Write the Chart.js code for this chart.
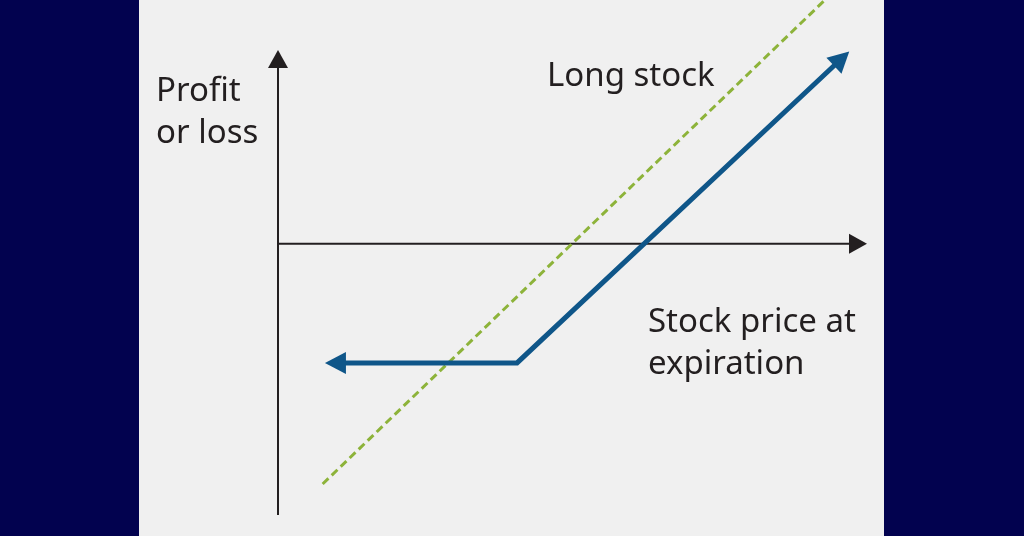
<!DOCTYPE html>
<html>
<head>
<meta charset="utf-8">
<script src="https://cdn.jsdelivr.net/npm/chart.js@4.4.1/dist/chart.umd.min.js"></script>
<style>
  html, body { margin: 0; padding: 0; }
  body { width: 1024px; height: 536px; background: #02024f; position: relative; overflow: hidden; }
  #panel { position: absolute; left: 139px; top: 0; width: 745px; height: 536px; background: #f0f0f0; }
  #chart { position: absolute; left: 0; top: 0; }
  .lbl { position: absolute; font-family: "Noto Sans", sans-serif; font-size: 33px; line-height: 42px; color: #231f20; white-space: nowrap; }
</style>
</head>
<body>
<div id="panel"></div>
<canvas id="chart" width="1024" height="536"></canvas>
<div class="lbl" id="yTitle" style="left:156px; top:68px;">Profit<br>or loss</div>
<div class="lbl" id="xTitle" style="left:648px; top:299px;">Stock price at<br>expiration</div>
<div class="lbl" id="longLbl" style="left:547px; top:53px;">Long stock</div>

<script>
// axis ranges (arbitrary units, origin where the axes cross)
const xRange = [0, 12];
const yRange = [-5.6, 4.0];

// long stock: dashed green line
const longStockX = [0.91, 11.14];
const longStockY = [-4.96, 5.03];

// long call payoff: blue line with arrows on both ends
const callX = [1.16, 4.87, 11.49];
const callY = [-2.46, -2.46, 3.83];

const BLUE = "#0f5689";
const GREEN = "#8db33a";
const INK = "#231f20";

function toPoints(xs, ys) {
  return xs.map((x, i) => ({ x: x, y: ys[i] }));
}

function arrowHead(ctx, tipX, tipY, dx, dy, len, half, color) {
  const bx = tipX - dx * len;
  const by = tipY - dy * len;
  ctx.beginPath();
  ctx.moveTo(tipX, tipY);
  ctx.lineTo(bx - dy * half, by + dx * half);
  ctx.lineTo(bx + dy * half, by - dx * half);
  ctx.closePath();
  ctx.fillStyle = color;
  ctx.fill();
}

// axes with arrowheads, drawn from the chart's own scales
const axesPlugin = {
  id: "axesPlugin",
  beforeDatasetsDraw(chart) {
    const ctx = chart.ctx;
    const xs = chart.scales.x;
    const ys = chart.scales.y;
    const x0 = xs.getPixelForValue(0);
    const y0 = ys.getPixelForValue(0);
    const xEnd = xs.getPixelForValue(xRange[1]);
    const yTop = ys.getPixelForValue(yRange[1]);
    const yBot = ys.getPixelForValue(yRange[0]);
    ctx.save();
    ctx.strokeStyle = INK;
    ctx.lineWidth = 2;
    ctx.beginPath();
    ctx.moveTo(x0, yBot);
    ctx.lineTo(x0, yTop + 10);
    ctx.moveTo(x0, y0);
    ctx.lineTo(xEnd - 10, y0);
    ctx.stroke();
    arrowHead(ctx, x0, yTop, 0, -1, 18, 10, INK);
    arrowHead(ctx, xEnd, y0, 1, 0, 18, 10, INK);
    ctx.restore();
  },
};

// arrowheads at both ends of datasets flagged with `arrows`
const lineArrows = {
  id: "lineArrows",
  afterDatasetsDraw(chart) {
    const ctx = chart.ctx;
    chart.data.datasets.forEach((ds, i) => {
      if (!ds.arrows) return;
      const pts = chart.getDatasetMeta(i).data;
      const ends = [
        [pts[0], pts[1]],
        [pts[pts.length - 1], pts[pts.length - 2]],
      ];
      ctx.save();
      ends.forEach(([a, b]) => {
        let dx = a.x - b.x;
        let dy = a.y - b.y;
        const d = Math.hypot(dx, dy);
        dx /= d;
        dy /= d;
        arrowHead(ctx, a.x + dx * 10, a.y + dy * 10, dx, dy, 21, 11, ds.borderColor);
      });
      ctx.restore();
    });
  },
};

new Chart(document.getElementById("chart"), {
  type: "scatter",
  data: {
    datasets: [
      {
        label: "Long stock",
        data: toPoints(longStockX, longStockY),
        showLine: true,
        borderColor: GREEN,
        borderWidth: 3,
        borderDash: [8, 4.5],
        pointRadius: 0,
        clip: false,
        order: 2,
      },
      {
        label: "Long call",
        data: toPoints(callX, callY),
        showLine: true,
        borderColor: BLUE,
        borderWidth: 5,
        borderJoinStyle: "miter",
        pointRadius: 0,
        clip: false,
        arrows: true,
        order: 1,
      },
    ],
  },
  options: {
    responsive: false,
    animation: false,
    layout: { padding: { left: 278, right: 157, top: 50, bottom: 21 } },
    plugins: {
      legend: { display: false },
      tooltip: { enabled: false },
    },
    scales: {
      x: { type: "linear", min: xRange[0], max: xRange[1], display: false },
      y: { type: "linear", min: yRange[0], max: yRange[1], display: false },
    },
  },
  plugins: [axesPlugin, lineArrows],
});
</script>
</body>
</html>
